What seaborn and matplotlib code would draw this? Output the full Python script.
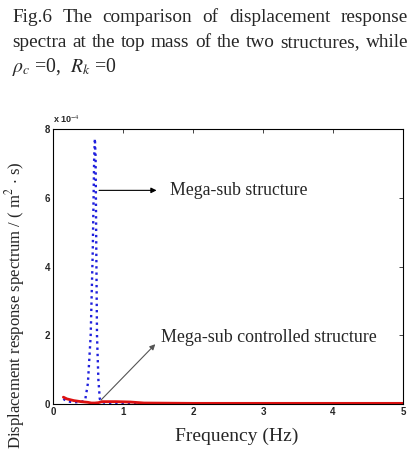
import numpy as np
import pandas as pd
import matplotlib
matplotlib.use("Agg")
import matplotlib.pyplot as plt
import seaborn as sns

# uncontrolled mega-sub structure (x 1e-4)
freq_mega = [0.15, 0.2, 0.3, 0.4, 0.46, 0.5, 0.54, 0.57, 0.59, 0.6, 0.61, 0.62, 0.63,
             0.65, 0.67, 0.7, 0.8, 1.0, 1.25]
resp_mega = [0.15, 0.08, 0.05, 0.06, 0.1, 0.6, 2.0, 4.5, 7.2, 7.73, 7.2, 4.5, 2.0,
             0.7, 0.15, 0.05, 0.03, 0.02, 0.01]

# controlled mega-sub structure (x 1e-4)
freq_ctrl = [0.15, 0.2, 0.3, 0.4, 0.5, 0.55, 0.6, 0.65, 0.7, 0.9, 1.1, 1.3, 2.0, 3.0, 4.0, 5.0]
resp_ctrl = [0.2, 0.15, 0.1, 0.07, 0.05, 0.03, 0.03, 0.04, 0.07, 0.07, 0.06, 0.03,
             0.02, 0.02, 0.02, 0.02]

xticks = [0, 1, 2, 3, 4, 5]
yticks = [0, 2, 4, 6, 8]

caption1 = 'Fig.6 The comparison of displacement response'
caption2 = 'spectra at the top mass of the two structures, while'

sns.set_style("white")
plt.rcParams['font.family'] = ['Liberation Serif', 'DejaVu Serif']
plt.rcParams['mathtext.fontset'] = 'stix'

fig = plt.figure(figsize=(4.13, 4.55), dpi=100)
ax = fig.add_axes([0.128, 0.112, 0.848, 0.604])

df_m = pd.DataFrame({'f': freq_mega, 'r': resp_mega})
df_c = pd.DataFrame({'f': freq_ctrl, 'r': resp_ctrl})
sns.lineplot(data=df_m, x='f', y='r', ax=ax, color='#2020dd', linestyle=':', linewidth=1.7)
sns.lineplot(data=df_c, x='f', y='r', ax=ax, color='#dd1111', linewidth=2.0)

ax.set_xlim(0, 5)
ax.set_ylim(0, 8)
ax.set_xticks(xticks)
ax.set_yticks(yticks)
ax.set_xticklabels([str(v) for v in xticks], fontsize=7, fontweight='bold', family='Liberation Sans')
ax.set_yticklabels([str(v) for v in yticks], fontsize=7, fontweight='bold', family='Liberation Sans')
ax.tick_params(direction='in', length=3, width=0.6, top=True, right=True, pad=2)
for s in ax.spines.values():
    s.set_color('black')
    s.set_linewidth(0.8)
ax.set_xlabel('Frequency (Hz)', fontsize=14, labelpad=10)
ax.xaxis.set_label_coords(0.526, -0.085)
ax.xaxis.label.set_va('top')
ax.set_ylabel('')

ax.text(0.0, 8.12, r'x 10$^{-4}$', fontsize=6.5, fontweight='bold', family='Liberation Sans',
        ha='left', va='bottom')

ax.annotate('', xy=(1.52, 6.22), xytext=(0.62, 6.22),
            arrowprops=dict(arrowstyle='-|>', color='black', lw=0.8, mutation_scale=8))
ax.text(1.67, 6.22, 'Mega-sub structure', fontsize=12.8, va='center', ha='left')
ax.annotate('', xy=(1.49, 1.8), xytext=(0.66, 0.06),
            arrowprops=dict(arrowstyle='-|>', color='#555555', lw=0.8, mutation_scale=8))
ax.text(1.54, 1.95, 'Mega-sub controlled structure', fontsize=12.9, va='center', ha='left')

fig.text(0.036, 1 - 161 / 455, r'Displacement response spectrum / ( m$^2$ $\cdot$ s)', fontsize=12.0,
         rotation=90, ha='center', va='top')

# caption, justified between x=12 and x=408 px
renderer = fig.canvas.get_renderer()
left, right = 12, 408
for line, base in [(caption1, 22), (caption2, 47)]:
    words = line.split()
    items = [fig.text(0, 1 - base / 455, w, fontsize=13.9, ha='left', va='baseline') for w in words]
    widths = [t.get_window_extent(renderer).width for t in items]
    gap = (right - left - sum(widths)) / (len(words) - 1)
    x = left
    for t, w in zip(items, widths):
        t.set_x(x / 413)
        x += w + gap
fig.text(12 / 413, 1 - 72 / 455, r'$\rho_c$ =0,  $R_k$ =0', fontsize=14.2, ha='left', va='baseline')

fig.savefig('out.png', dpi=100)
